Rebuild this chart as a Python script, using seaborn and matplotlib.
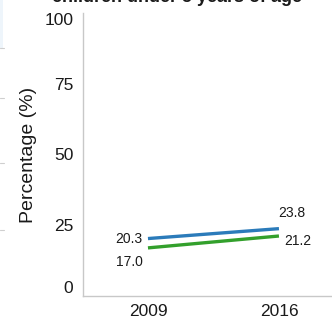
import matplotlib
matplotlib.use("Agg")
import matplotlib.pyplot as plt
from matplotlib.lines import Line2D
from matplotlib.patches import Rectangle
import seaborn as sns
import pandas as pd

# Prevalence among children under 5, two survey rounds
years = ["2009", "2016"]
series_names = ["Series A", "Series B"]
series_a = [20.3, 23.8]
series_b = [17.0, 21.2]
y_ticks = [0, 25, 50, 75, 100]
title = "children under 5 years of age"
y_label = "Percentage (%)"

colors = {"Series A": "#2b7bba", "Series B": "#33a02c"}

sns.set_theme(style="white")
plt.rcParams["font.family"] = ["Liberation Sans", "DejaVu Sans"]

df = pd.DataFrame({
    "year": years * 2,
    "x": [0, 1] * 2,
    "value": series_a + series_b,
    "series": [series_names[0]] * 2 + [series_names[1]] * 2,
})

W, H, DPI = 332, 320, 100
fig = plt.figure(figsize=(W / DPI, H / DPI), dpi=DPI)
ax = fig.add_axes([83 / W, 1 - 296 / H, 1 - 83 / W, (296 - 13) / H])

sns.lineplot(data=df, x="x", y="value", hue="series", palette=colors,
             linewidth=2.4, legend=False, ax=ax, solid_capstyle="butt")

ax.set_xlim(-0.496, 1.405)
ax.set_ylim(0, 100)
ax.set_xticks([0, 1])
ax.set_xticklabels(years)
ax.set_yticks(y_ticks)
ax.set_yticklabels([str(t) for t in y_ticks])
ax.tick_params(axis="both", length=0, labelsize=12.5, colors="#1a1a1a")
ax.tick_params(axis="y", pad=7)
ax.tick_params(axis="x", pad=6)
ylabs = ax.get_yticklabels()
ylabs[0].set_verticalalignment("bottom")
ylabs[-1].set_verticalalignment("top")

for side in ["top", "right"]:
    ax.spines[side].set_visible(False)
for side in ["left", "bottom"]:
    ax.spines[side].set_color("#c8c8c8")
    ax.spines[side].set_linewidth(1.0)

ax.set_xlabel("")
ax.set_ylabel(y_label, fontsize=14, color="#1a1a1a")
ax.yaxis.set_label_coords(-(83 - 37) / (W - 83), 0.5)

# value labels
lbl = dict(fontsize=10, color="#1a1a1a", textcoords="offset points")
ax.annotate(f"{series_a[0]:.1f}", (0, series_a[0]), xytext=(-4, 0),
            ha="right", va="center", **lbl)
ax.annotate(f"{series_b[0]:.1f}", (0, series_b[0]), xytext=(-4, -10),
            ha="right", va="center", **lbl)
ax.annotate(f"{series_a[1]:.1f}", (1, series_a[1]), xytext=(9, 11.5),
            ha="center", va="center", **lbl)
ax.annotate(f"{series_b[1]:.1f}", (1, series_b[1]), xytext=(4, -3.5),
            ha="left", va="center", **lbl)

fig.suptitle(title, x=177 / W, y=1 + 2 / H, va="center",
             fontsize=13, fontweight="bold", color="#1a1a1a")

# edge of the neighbouring panel
fig.patches.append(Rectangle((0, 1 - 48 / H), 3 / W, 48 / H,
                             transform=fig.transFigure, facecolor="#eef5fb",
                             edgecolor="none"))
for yy in [48, 98, 163, 230]:
    fig.lines.append(Line2D([0, 4 / W], [1 - yy / H] * 2,
                            transform=fig.transFigure, color="#cfcfcf", lw=0.8))

fig.savefig("out.png", dpi=DPI)
